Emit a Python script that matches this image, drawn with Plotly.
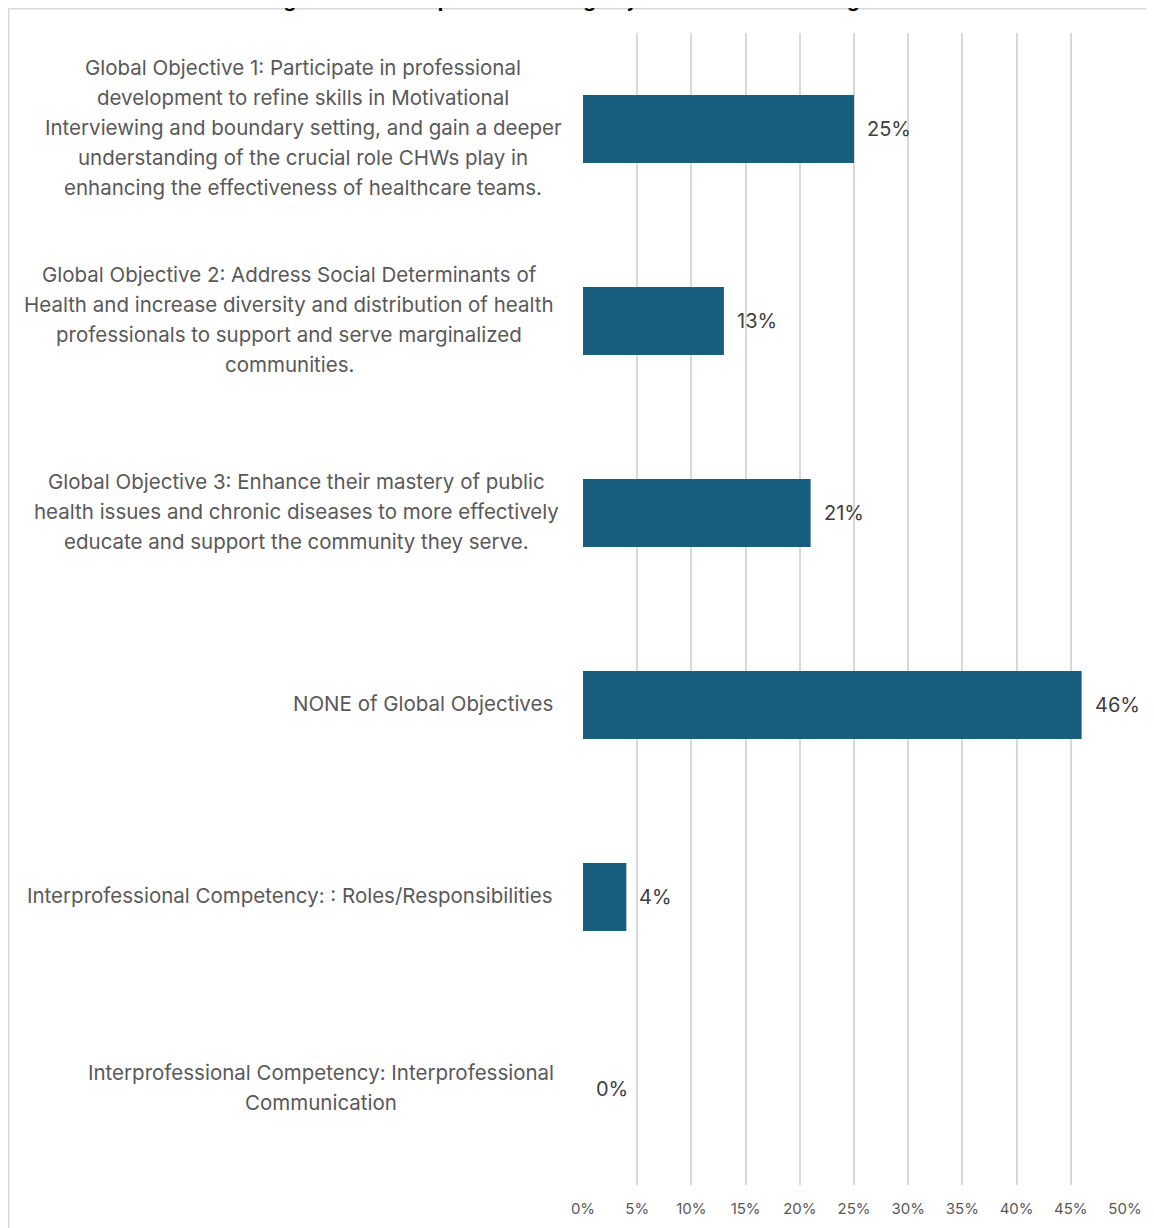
import plotly.graph_objects as go

categories = [
    "Global Objective 1: Participate in professional<br>development to refine skills in Motivational<br>Interviewing and boundary setting, and gain a deeper<br>understanding of the crucial role CHWs play in<br>enhancing the effectiveness of healthcare teams.",
    "Global Objective 2: Address Social Determinants of<br>Health and increase diversity and distribution of health<br>professionals to support and serve marginalized<br>communities.",
    "Global Objective 3: Enhance their mastery of public<br>health issues and chronic diseases to more effectively<br>educate and support the community they serve.",
    "NONE of Global Objectives",
    "Interprofessional Competency: : Roles/Responsibilities",
    "Interprofessional Competency: Interprofessional<br>Communication",
]
values = [0.25, 0.13, 0.21, 0.46, 0.04, 0.00]
tick_vals = [0, 0.05, 0.10, 0.15, 0.20, 0.25, 0.30, 0.35, 0.40, 0.45, 0.50]
tick_text = ["0%", "5%", "10%", "15%", "20%", "25%", "30%", "35%", "40%", "45%", "50%"]
title_text = "Percentage of Session-Specific Learning Objectives That Are in Alignment With:"

# layout: horizontal centre (page px) of each wrapped category label block
label_centres_px = [303, 289, 296, 423, 290, 321]

FONT = "Inter"
OFF = 8  # page offset of the figure
W, H = 1154, 1228
ML, MT = 583 - OFF, 33 - OFF
PLOT_R, PLOT_B = 1125 - OFF, 1185 - OFF
MR, MB = W - PLOT_R, H - PLOT_B
PW = W - ML - MR
PH = H - MT - MB


def px_x(p):
    return (p - OFF - ML) / PW


def px_y(p):
    return (MT + PH - (p - OFF)) / PH


cat_ids = list(range(len(categories)))

fig = go.Figure()
fig.add_trace(go.Bar(
    x=values, y=cat_ids, orientation="h",
    marker=dict(color="#185f7f", line=dict(width=0)),
    width=0.354,
    hoverinfo="skip",
))

LINE = 30
annotations = []
for cid, cat, cx in zip(cat_ids, categories, label_centres_px):
    lines = cat.split("<br>")
    n = len(lines)
    for i, ln in enumerate(lines):
        annotations.append(dict(
            x=px_x(cx), xref="paper", y=cid, yref="y",
            text=ln, showarrow=False, xanchor="center", yanchor="middle",
            yshift=-((i - (n - 1) / 2) * LINE) + 2,
            font=dict(family=FONT, size=20.5, color="#595959"),
        ))
for cid, v in zip(cat_ids, values):
    annotations.append(dict(
        x=v, xref="x", y=cid, yref="y",
        text=f"{round(v*100)}%", showarrow=False, xanchor="left", yanchor="middle",
        xshift=11, font=dict(family=FONT, size=20, color="#404040"),
    ))
annotations.append(dict(
    x=px_x(587), xref="paper", y=px_y(OFF - 8), yref="paper",
    yanchor="middle", xanchor="center", showarrow=False,
    text=f"<b>{title_text}</b>", font=dict(family=FONT, size=20, color="#000000"),
))

fig.update_layout(
    width=W, height=H,
    margin=dict(l=ML, r=MR, t=MT, b=MB, pad=0),
    paper_bgcolor="white", plot_bgcolor="white",
    showlegend=False,
    bargap=0.646,
    annotations=annotations,
    shapes=[dict(
        type="rect", xref="paper", yref="paper",
        x0=px_x(OFF + 0.75), x1=px_x(W + 40),
        y0=px_y(H + 40), y1=px_y(OFF + 0.75),
        line=dict(color="#d9d9d9", width=1.5), fillcolor="rgba(0,0,0,0)", layer="below",
    )],
    xaxis=dict(
        range=[0, 0.5], tickvals=tick_vals, ticktext=tick_text,
        showgrid=True, gridcolor="#d9d9d9", gridwidth=1.5,
        zeroline=False, showline=False,
        ticks="outside", ticklen=10, tickcolor="rgba(0,0,0,0)",
        tickfont=dict(family=FONT, size=15, color="#595959"),
        fixedrange=True,
    ),
    yaxis=dict(
        range=[len(categories) - 0.5, -0.5],
        tickvals=cat_ids, showticklabels=False,
        showgrid=False, zeroline=False, showline=False,
        fixedrange=True,
    ),
)

fig.write_html("out.html")
